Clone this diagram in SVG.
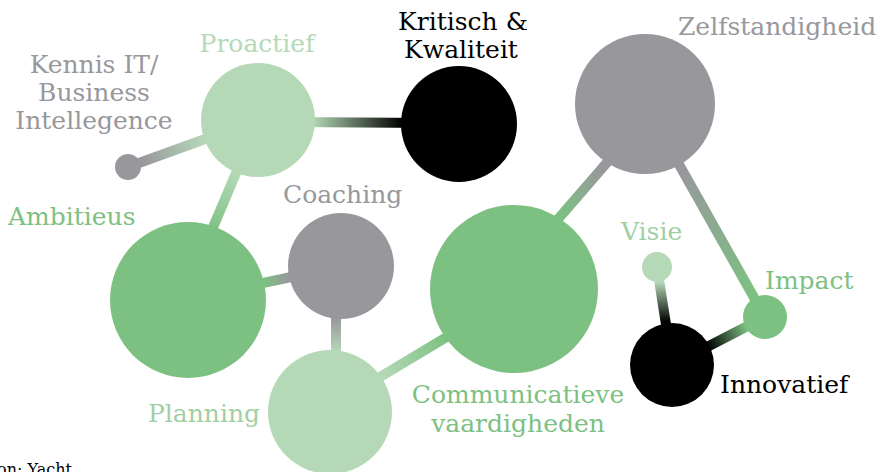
<svg xmlns="http://www.w3.org/2000/svg" width="883" height="472" viewBox="0 0 883 472">
  <style>
    text { font-family: "DejaVu Serif", "Liberation Serif", serif; font-size: 25px; }
    .mid { text-anchor: middle; }
    .t-grey { fill: #98979c; }
    .t-light { fill: #b5d9b7; }
    .t-soft { fill: #9fd0a2; }
    .t-green { fill: #7dc182; }
    .t-black { fill: #000000; }
    .n-grey { fill: #98979c; }
    .n-light { fill: #b5d9b7; }
    .n-green { fill: #7dc182; }
    .n-black { fill: #000000; }
    .link { stroke-width: 10; stroke-linecap: butt; fill: none; }
    .source { font-size: 16px; }
  </style>
  <defs>
    <linearGradient id="g-kennis" gradientUnits="userSpaceOnUse" x1="141" y1="163" x2="205" y2="140">
      <stop offset="0" stop-color="#98979c"/><stop offset="1" stop-color="#b5d9b7"/>
    </linearGradient>
    <linearGradient id="g-kritisch" gradientUnits="userSpaceOnUse" x1="312" y1="0" x2="402" y2="0">
      <stop offset="0" stop-color="#b5d9b7"/><stop offset="1" stop-color="#000000"/>
    </linearGradient>
    <linearGradient id="g-ambitieus" gradientUnits="userSpaceOnUse" x1="236" y1="172" x2="210" y2="232">
      <stop offset="0" stop-color="#b5d9b7"/><stop offset="1" stop-color="#7dc182"/>
    </linearGradient>
    <linearGradient id="g-coaching" gradientUnits="userSpaceOnUse" x1="264" y1="283" x2="290" y2="277">
      <stop offset="0" stop-color="#7dc182"/><stop offset="1" stop-color="#98979c"/>
    </linearGradient>
    <linearGradient id="g-planning" gradientUnits="userSpaceOnUse" x1="0" y1="318" x2="0" y2="352">
      <stop offset="0" stop-color="#98979c"/><stop offset="1" stop-color="#b5d9b7"/>
    </linearGradient>
    <linearGradient id="g-comm" gradientUnits="userSpaceOnUse" x1="383" y1="376" x2="446" y2="338">
      <stop offset="0" stop-color="#b5d9b7"/><stop offset="1" stop-color="#7dc182"/>
    </linearGradient>
    <linearGradient id="g-zelf" gradientUnits="userSpaceOnUse" x1="562" y1="216" x2="602" y2="168">
      <stop offset="0" stop-color="#7dc182"/><stop offset="1" stop-color="#98979c"/>
    </linearGradient>
    <linearGradient id="g-impact" gradientUnits="userSpaceOnUse" x1="680" y1="168" x2="752" y2="296">
      <stop offset="0" stop-color="#98979c"/><stop offset="1" stop-color="#7dc182"/>
    </linearGradient>
    <linearGradient id="g-visie" gradientUnits="userSpaceOnUse" x1="0" y1="282" x2="0" y2="322">
      <stop offset="0" stop-color="#b5d9b7"/><stop offset="1" stop-color="#000000"/>
    </linearGradient>
    <linearGradient id="g-innov" gradientUnits="userSpaceOnUse" x1="746" y1="325" x2="707" y2="345">
      <stop offset="0" stop-color="#7dc182"/><stop offset="1" stop-color="#000000"/>
    </linearGradient>
  </defs>

  <!-- connectors -->
  <g id="connectors">
    <line class="link" stroke="url(#g-kennis)" x1="128" y1="167" x2="230" y2="130" stroke-width="9"/>
    <line class="link" stroke="url(#g-kritisch)" x1="290" y1="122" x2="430" y2="123"/>
    <line class="link" stroke="url(#g-ambitieus)" x1="250" y1="140" x2="195" y2="270"/>
    <line class="link" stroke="url(#g-coaching)" x1="230" y1="290" x2="320" y2="271"/>
    <line class="link" stroke="url(#g-planning)" x1="336" y1="290" x2="336" y2="380"/>
    <line class="link" stroke="url(#g-comm)" x1="340" y1="401" x2="490" y2="311"/>
    <line class="link" stroke="url(#g-zelf)" x1="520" y1="263" x2="630" y2="136"/>
    <line class="link" stroke="url(#g-impact)" x1="650" y1="113" x2="765" y2="317"/>
    <line class="link" stroke="url(#g-visie)" x1="657" y1="267" x2="670" y2="350"/>
    <line class="link" stroke="url(#g-innov)" x1="765" y1="317" x2="680" y2="361"/>
  </g>

  <g id="kennis">
    <circle class="n-grey" cx="128" cy="167" r="13"/>
    <text class="t-grey mid" x="94" y="73">Kennis IT/</text>
    <text class="t-grey mid" x="94" y="101">Business</text>
    <text class="t-grey mid" x="94" y="129">Intellegence</text>
  </g>
  <g id="proactief">
    <circle class="n-light" cx="258" cy="120" r="57"/>
    <text class="t-light mid" x="257" y="52">Proactief</text>
  </g>
  <g id="kritisch">
    <circle class="n-black" cx="459" cy="124" r="58"/>
    <text class="t-black mid" x="463" y="30">Kritisch &amp;</text>
    <text class="t-black mid" x="461" y="58">Kwaliteit</text>
  </g>
  <g id="zelfstandigheid">
    <circle class="n-grey" cx="645" cy="104" r="70"/>
    <text class="t-grey" x="678" y="35">Zelfstandigheid</text>
  </g>
  <g id="ambitieus">
    <circle class="n-green" cx="188" cy="300" r="78"/>
    <text class="t-green" x="8" y="225">Ambitieus</text>
  </g>
  <g id="coaching">
    <circle class="n-grey" cx="341" cy="266" r="53"/>
    <text class="t-grey" x="283" y="203">Coaching</text>
  </g>
  <g id="planning">
    <circle class="n-light" cx="330" cy="412" r="62"/>
    <text class="t-soft" x="148" y="422">Planning</text>
  </g>
  <g id="communicatieve">
    <circle class="n-green" cx="514" cy="289" r="84"/>
    <text class="t-green mid" x="518" y="403">Communicatieve</text>
    <text class="t-green mid" x="518" y="432">vaardigheden</text>
  </g>
  <g id="visie">
    <circle class="n-light" cx="657" cy="267" r="15"/>
    <text class="t-soft" x="621" y="240">Visie</text>
  </g>
  <g id="impact">
    <circle class="n-green" cx="765" cy="317" r="22"/>
    <text class="t-green" x="765" y="289">Impact</text>
  </g>
  <g id="innovatief">
    <circle class="n-black" cx="672" cy="365" r="42"/>
    <text class="t-black" x="720" y="393">Innovatief</text>
  </g>

  <text class="source t-black" x="-3" y="475">on: Yacht</text>
</svg>
